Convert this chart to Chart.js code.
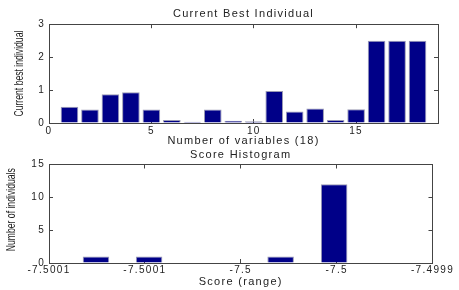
<!DOCTYPE html>
<html>
<head>
<meta charset="utf-8">
<script src="https://cdn.jsdelivr.net/npm/chart.js@4.4.0/dist/chart.umd.min.js"></script>
<style>
    html, body { margin: 0; padding: 0; background: #ffffff; }
    #wrap { position: relative; width: 459px; height: 290px; overflow: hidden; }
    canvas { position: absolute; left: 0; }
    #bestChart { top: 0; }
    #histChart { top: 145px; }
</style>
</head>
<body>
<div id="wrap">
    <canvas id="bestChart" width="459" height="150"></canvas>
    <canvas id="histChart" width="459" height="145"></canvas>
</div>
<script>
// Current best individual: one value per variable
const varIndex = [1, 2, 3, 4, 5, 6, 7, 8, 9, 10, 11, 12, 13, 14, 15, 16, 17, 18];
const bestValues = [0.49, 0.41, 0.87, 0.93, 0.41, 0.09, 0.04, 0.41, 0.07, 0.05, 0.97, 0.35, 0.44, 0.09, 0.42, 2.5, 2.5, 2.5];
const bestXTicks = [0, 5, 10, 15];
const bestYTicks = [0, 1, 2, 3];

// Score histogram
const scoreBins = [-7.5000755, -7.5000478, -7.4999792, -7.4999513];
const scoreCounts = [1, 1, 1, 12];
const scoreTicks = [-7.5001, -7.50005, -7.5, -7.49995, -7.4999];
const scoreTickLabels = ['-7.5001', '-7.5001', '-7.5', '-7.5', '-7.4999'];
const countTicks = [0, 5, 10, 15];

const FONT = '"Liberation Sans", Arial, sans-serif';
const textColor = '#222222';
const axisColor = '#444444';
const barFill = '#000088';
const barEdge = '#9a9ab4';

// MATLAB text is drawn wide, spread it a bit
const spacing = {
    id: 'spacing',
    beforeLayout(chart) { chart.ctx.letterSpacing = '1.3px'; },
    beforeDraw(chart) { chart.ctx.letterSpacing = '1.3px'; }
};

// narrow rotated y label
const sideLabel = {
    id: 'sideLabel',
    afterDraw(chart, args, opts) {
        const ctx = chart.ctx, a = chart.chartArea;
        ctx.save();
        ctx.letterSpacing = '0px';
        ctx.font = '12px ' + FONT;
        ctx.fillStyle = textColor;
        ctx.textAlign = 'center';
        ctx.textBaseline = 'middle';
        ctx.translate(opts.x, (a.top + a.bottom) / 2 + (opts.dy || 0));
        ctx.rotate(-Math.PI / 2);
        ctx.scale(0.72, 1);
        ctx.fillText(opts.text, 0, 0);
        ctx.restore();
    }
};

const fixTicks = values => scale => { scale.ticks = values.map(v => ({ value: v })); };

const inwardGrid = { drawOnChartArea: false, drawTicks: true, tickLength: -4, color: axisColor, offset: false };
const tickFont = { family: FONT, size: 10 };
const labelFont = { family: FONT, size: 11, weight: 'normal' };

// 1. Current best individual (bar chart on a linear x axis)
new Chart(document.getElementById('bestChart'), {
    type: 'bar',
    data: {
        datasets: [{
            data: varIndex.map((x, i) => ({ x: x, y: bestValues[i] })),
            backgroundColor: barFill,
            borderColor: barEdge,
            borderWidth: 1,
            barPercentage: 0.86,
            categoryPercentage: 1
        }]
    },
    options: {
        responsive: false,
        animation: false,
        layout: { padding: { left: 0, right: 21, top: 0, bottom: 0 } },
        plugins: {
            legend: { display: false },
            tooltip: { enabled: false },
            title: {
                display: true,
                text: 'Current Best Individual',
                fullSize: false,
                color: textColor,
                font: labelFont,
                padding: { top: 7, bottom: 4 }
            },
            sideLabel: { text: 'Current best individual', x: 20 }
        },
        scales: {
            x: {
                type: 'linear', min: 0, max: 19, offset: false,
                afterBuildTicks: fixTicks(bestXTicks),
                afterFit: s => { s.height = 27; },
                grid: inwardGrid,
                border: { color: axisColor },
                ticks: { color: textColor, font: tickFont, padding: 6, maxRotation: 0, autoSkip: false },
                title: { display: true, text: 'Number of variables (18)', color: textColor, font: labelFont, padding: { top: 0, bottom: 2 } }
            },
            y: {
                min: 0, max: 3,
                afterBuildTicks: fixTicks(bestYTicks),
                afterFit: s => { s.width = 49; },
                grid: inwardGrid,
                border: { color: axisColor },
                ticks: { color: textColor, font: tickFont, padding: 8 }
            },
            xTop: {
                type: 'linear', position: 'top', min: 0, max: 19, offset: false,
                afterBuildTicks: fixTicks(bestXTicks),
                afterFit: s => { s.height = 0; },
                grid: inwardGrid,
                border: { color: axisColor },
                ticks: { display: false }
            },
            yRight: {
                type: 'linear', position: 'right', min: 0, max: 3,
                afterBuildTicks: fixTicks(bestYTicks),
                afterFit: s => { s.width = 0; },
                grid: inwardGrid,
                border: { color: axisColor },
                ticks: { display: false }
            }
        }
    },
    plugins: [spacing, sideLabel]
});

// 2. Score histogram
new Chart(document.getElementById('histChart'), {
    type: 'bar',
    data: {
        datasets: [{
            data: scoreBins.map((x, i) => ({ x: x, y: scoreCounts[i] })),
            backgroundColor: barFill,
            borderColor: barEdge,
            borderWidth: 1,
            barPercentage: 0.5,
            categoryPercentage: 1
        }]
    },
    options: {
        responsive: false,
        animation: false,
        layout: { padding: { left: 0, right: 21, top: 0, bottom: 0 } },
        plugins: {
            legend: { display: false },
            tooltip: { enabled: false },
            title: {
                display: true,
                text: 'Score Histogram',
                fullSize: false,
                color: textColor,
                font: labelFont,
                padding: { top: 3.4, bottom: 2.9 }
            },
            sideLabel: { text: 'Number of individuals', x: 12, dy: -4 }
        },
        scales: {
            x: {
                type: 'linear', min: scoreTicks[0], max: scoreTicks[scoreTicks.length - 1], offset: false,
                afterBuildTicks: fixTicks(scoreTicks),
                afterFit: s => { s.height = 27; },
                grid: inwardGrid,
                border: { color: axisColor },
                ticks: {
                    color: textColor, font: tickFont, padding: 5, maxRotation: 0, autoSkip: false,
                    callback: (v, i) => scoreTickLabels[i]
                },
                title: { display: true, text: 'Score (range)', color: textColor, font: labelFont, padding: { top: 0, bottom: 1.7 } }
            },
            y: {
                min: 0, max: 15,
                afterBuildTicks: fixTicks(countTicks),
                afterFit: s => { s.width = 49; },
                grid: inwardGrid,
                border: { color: axisColor },
                ticks: { color: textColor, font: tickFont, padding: 8 }
            },
            xTop: {
                type: 'linear', position: 'top', min: scoreTicks[0], max: scoreTicks[scoreTicks.length - 1], offset: false,
                afterBuildTicks: fixTicks(scoreTicks),
                afterFit: s => { s.height = 0; },
                grid: inwardGrid,
                border: { color: axisColor },
                ticks: { display: false }
            },
            yRight: {
                type: 'linear', position: 'right', min: 0, max: 15,
                afterBuildTicks: fixTicks(countTicks),
                afterFit: s => { s.width = 0; },
                grid: inwardGrid,
                border: { color: axisColor },
                ticks: { display: false }
            }
        }
    },
    plugins: [spacing, sideLabel]
});
</script>
</body>
</html>
